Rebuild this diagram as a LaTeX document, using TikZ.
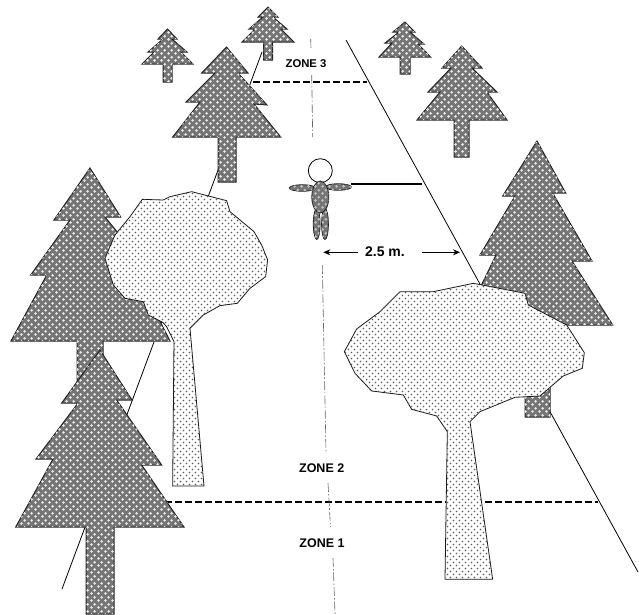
\documentclass[tikz,border=0pt]{standalone}
\usepackage{fontspec}
\setmainfont{Liberation Sans}
\usetikzlibrary{patterns,arrows.meta}
\pgfdeclarepatternformonly{needledots}{\pgfqpoint{-1pt}{-1pt}}{\pgfqpoint{6pt}{6pt}}{\pgfqpoint{7pt}{7pt}}{%
  \pgfpathcircle{\pgfqpoint{0.75pt}{0.75pt}}{1.6pt}\pgfpathcircle{\pgfqpoint{4.25pt}{4.25pt}}{1.6pt}\pgfusepath{fill}}
\pgfdeclarepatternformonly{leafdots}{\pgfqpoint{-1pt}{-1pt}}{\pgfqpoint{5pt}{5pt}}{\pgfqpoint{6pt}{6pt}}{%
  \pgfpathcircle{\pgfqpoint{0.5pt}{0.5pt}}{0.85pt}\pgfpathcircle{\pgfqpoint{3.5pt}{3.5pt}}{0.85pt}\pgfusepath{fill}}
\definecolor{needle}{gray}{0.46}
\definecolor{leaf}{gray}{0.35}
\tikzset{
  conifer/.style={draw=black!85,line width=1pt,line join=miter,fill=needle,postaction={pattern=needledots,pattern color=white!92!black}},
  crown/.style={draw=black!90,line width=0.8pt,fill=white,postaction={pattern=leafdots,pattern color=leaf}},
  edgeline/.style={draw=black,line width=0.8pt},
  zoneline/.style={draw=black,line width=2pt,dash pattern=on 6.5pt off 3.5pt},
  axisline/.style={draw=black!60,line width=0.6pt,dash pattern=on 9pt off 2pt on 1.5pt off 2pt},
  zonelabel/.style={font=\bfseries\fontsize{12.5}{14}\selectfont,inner sep=0pt},
  person/.style={draw=black!85,line width=0.8pt,fill=needle,postaction={pattern=needledots,pattern color=white!75!black}},
  measure/.style={draw=black,line width=1pt,-{Stealth[length=7pt,width=6pt]}}
}
\begin{document}
\begin{tikzpicture}[x=1pt,y=-1pt]
\useasboundingbox (0,0) rectangle (639,614);
% named points
\coordinate (rightTop) at (346,40);
\coordinate (rightEnd) at (638,572);
\coordinate (leftTop) at (262,52);
\coordinate (leftEnd) at (62,589);
\coordinate (z3a) at (253,81.7);
\coordinate (z3b) at (366.7,81.7);
\coordinate (z2a) at (165,501.7);
\coordinate (z2b) at (598,501.7);
\coordinate (reachA) at (350.7,183.7);
\coordinate (reachB) at (421.7,183.7);
\coordinate (ax1) at (310.7,39);
\coordinate (ax2) at (311,49);
\coordinate (ax3) at (311.7,75);
\coordinate (ax4) at (312.7,137);
\coordinate (ax5) at (322.3,265);
\coordinate (ax6) at (326,452);
\coordinate (ax7) at (328,483);
\coordinate (ax8) at (330.5,527);
\coordinate (ax9) at (333,558);
\coordinate (ax10) at (335,614);
\coordinate (mL) at (323.3,252.3);
\coordinate (mLe) at (358.3,252.3);
\coordinate (mRs) at (421.7,252.3);
\coordinate (mR) at (460,252.3);
% road edges and zones
\draw[edgeline] (rightTop) -- (rightEnd);
\draw[edgeline] (leftTop) -- (leftEnd);
\draw[zoneline] (z3a) -- (z3b);
\draw[zoneline] (z2a) -- (z2b);
\draw[axisline] (ax1) -- (ax2);
\draw[axisline] (ax3) -- (ax4);
\draw[axisline] (ax5) -- (ax6);
\draw[axisline] (ax7) -- (ax8);
\draw[axisline] (ax9) -- (ax10);
\draw[line width=2pt] (reachA) -- (reachB);
% small and mid conifers
\path[conifer] (167.5,29) -- (177,39) -- (172,39) -- (187,52) -- (181,52) -- (193,64) -- (172,64) -- (172,82) -- (163,82) -- (163,64) -- (142,64) -- (154,52) -- (148,52) -- (163,39) -- (158,39) -- cycle;
\path[conifer] (268,7) -- (278,17) -- (273,17) -- (287,29) -- (281,29) -- (294,42) -- (272.5,42) -- (272.5,60) -- (263.5,60) -- (263.5,42) -- (242,42) -- (255,29) -- (249,29) -- (263,17) -- (258,17) -- cycle;
\path[conifer] (405,22) -- (415,32) -- (410,32) -- (424,44) -- (418,44) -- (430.7,57) -- (410,57) -- (410,74) -- (400,74) -- (400,57) -- (379,57) -- (392,43) -- (385,43) -- (399,32) -- (393,32) -- cycle;
\path[conifer] (226.5,47) -- (248,73) -- (238,73) -- (267,105) -- (254,104) -- (280.7,137) -- (236,137) -- (236,182) -- (218,182) -- (218,137) -- (172.7,137) -- (200,102) -- (186,102) -- (215,73) -- (201.7,73) -- cycle;
\path[conifer] (461.7,46) -- (482,68) -- (472,68) -- (497,92) -- (487,92) -- (507,120) -- (469,120) -- (469,157) -- (454,157) -- (454,120) -- (417,120) -- (440,92) -- (428,92) -- (451,68) -- (442,68) -- cycle;
% big conifers
\path[conifer] (537,141) -- (565.7,193) -- (552.7,193) -- (592,261) -- (572,261) -- (612.7,325) -- (550,325) -- (550,417) -- (525,417) -- (525,325) -- (462,325) -- (496,255) -- (480,255) -- (515,196) -- (502.7,196) -- cycle;
\path[conifer] (90,168) -- (120.7,217) -- (105,217) -- (150,272) -- (135,272) -- (170,341) -- (103,341) -- (103,400) -- (77,400) -- (77,341) -- (11,341) -- (46.7,275) -- (30.7,275) -- (70,220) -- (54,220) -- cycle;
\path[conifer] (100,350) -- (132,400) -- (116.7,400) -- (161.7,465) -- (141.7,465) -- (184,527) -- (114,527) -- (114,614) -- (86,614) -- (86,527) -- (15.7,527) -- (53,459) -- (36,459) -- (78,403) -- (61.7,403) -- cycle;
% broadleaf trees
\begin{scope}[shift={(0,160)},x=0.3333pt,y=-0.3333pt]
\path[crown] (427,118) -- (490,120) -- (510,110) -- (575,95) -- (680,122) -- (690,155) -- (762,215) -- (785,255) -- (803,300) -- (797,350) -- (750,385) -- (712,430) -- (660,437) -- (610,465) -- (570,505) -- (612,978) -- (518,978) -- (522,545) -- (500,500) -- (488,487) -- (445,465) -- (430,425) -- (375,415) -- (340,375) -- (315,295) -- (345,225) -- (390,170) -- cycle;
\end{scope}
\begin{scope}[shift={(330,130)},x=0.3333pt,y=-0.3333pt]
\path[crown] (210,485) -- (310,485) -- (430,460) -- (585,490) -- (595,525) -- (710,585) -- (763,668) -- (757,715) -- (700,738) -- (660,772) -- (630,798) -- (555,802) -- (450,845) -- (420,875) -- (488,1348) -- (345,1348) -- (352,905) -- (320,858) -- (245,838) -- (220,795) -- (125,783) -- (75,730) -- (43,665) -- (80,597) -- (150,545) -- cycle;
\end{scope}
% person
\node[draw=black,line width=0.8pt,circle,minimum size=24pt,inner sep=0pt,fill=white] (head) at (320.3,170.7) {};
\path[person] (316.7,224) ellipse [x radius=3.4,y radius=15.5];
\path[person] (325,224) ellipse [x radius=3.4,y radius=15.5];
\path[person] (302.3,188) ellipse [x radius=13,y radius=3.3];
\path[person] (338.3,187) ellipse [x radius=13,y radius=3.3];
\path[person] (320.3,197) ellipse [x radius=8.5,y radius=16];
% labels
\node[zonelabel,font=\bfseries\fontsize{11.3}{13}\selectfont] (zone3) at (306,63.5) {ZONE 3};
\node[zonelabel] (zone2) at (321.7,468) {ZONE 2};
\node[zonelabel] (zone1) at (322,543.5) {ZONE 1};
\node[font=\bfseries\fontsize{14}{16}\selectfont,inner sep=0pt] (dist) at (385,252) {2.5 m.};
\draw[measure] (mLe) -- (mL);
\draw[measure] (mRs) -- (mR);
\end{tikzpicture}
\end{document}
